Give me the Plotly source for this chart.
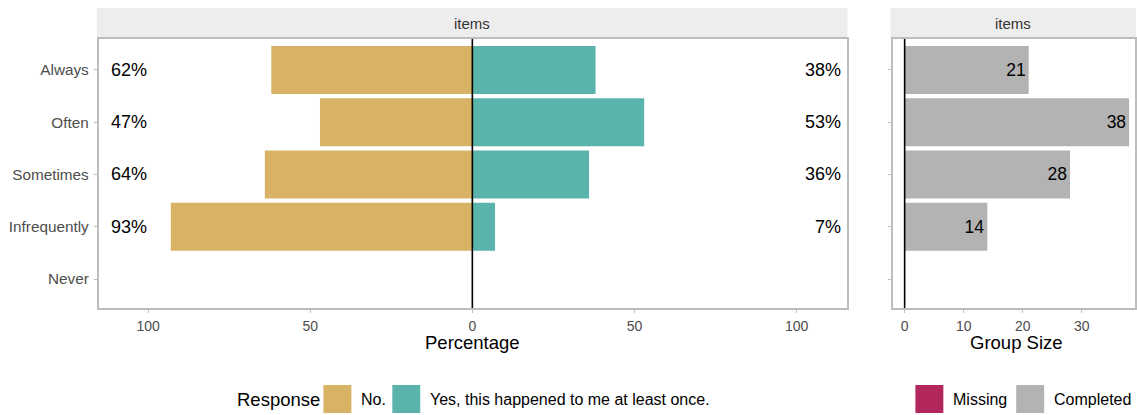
import plotly.graph_objects as go

# ---------------- data ----------------
items = ["Always", "Often", "Sometimes", "Infrequently", "Never"]
pct_no = [62, 47, 64, 93, None]
pct_yes = [38, 53, 36, 7, None]
group_size = [21, 38, 28, 14, None]
response_levels = ["No.", "Yes, this happened to me at least once."]
group_levels = ["Missing", "Completed"]
x_ticks = [-100, -50, 0, 50, 100]
x_tick_text = ["100", "50", "0", "50", "100"]
n_ticks = [0, 10, 20, 30]
strip_label = "items"

# ---------------- style ----------------
W, H = 1137, 415
C_NO = "#D8B365"
C_YES = "#5AB4AC"
C_MISS = "#B2285C"
C_COMP = "#B3B3B3"
BORDER = "#BDBDBD"
FONT = "Liberation Sans"
TICK_COL = "#4D4D4D"

def px(x):
    return x / W

def py(y):
    return (H - y) / H

L0, L1 = 99, 848      # left panel px
R0, R1 = 895, 1137    # right panel px
T0, T1 = 39, 308      # panel top/bottom px
S0 = 8                # strip top px

fig = go.Figure()

neg_no = [-v if v is not None else None for v in pct_no]
fig.add_trace(go.Bar(y=items, x=neg_no, orientation="h", marker=dict(color=C_NO, line_width=0),
                     width=0.92, name=response_levels[0], xaxis="x", yaxis="y", showlegend=False))
fig.add_trace(go.Bar(y=items, x=pct_yes, orientation="h", marker=dict(color=C_YES, line_width=0),
                     width=0.92, name=response_levels[1], xaxis="x", yaxis="y", showlegend=False))
fig.add_trace(go.Bar(y=items, x=group_size, orientation="h", marker=dict(color=C_COMP, line_width=0),
                     width=0.92, name=group_levels[1], xaxis="x2", yaxis="y2", showlegend=False,
                     text=[str(v) if v is not None else "" for v in group_size],
                     textposition="inside", insidetextanchor="end", textangle=0,
                     constraintext="none",
                     textfont=dict(family=FONT, size=17.5, color="black")))

yrange = [4.555, -0.593]
common_y = dict(type="category", categoryorder="array", categoryarray=items, range=yrange,
                showgrid=False, zeroline=False, showline=True, mirror=True,
                linecolor=BORDER, linewidth=2, ticks="outside", ticklen=3, tickcolor=BORDER,
                tickfont=dict(family=FONT, size=15.3, color=TICK_COL))

fig.update_layout(
    width=W, height=H, margin=dict(l=0, r=0, t=0, b=0),
    paper_bgcolor="white", plot_bgcolor="white",
    barmode="relative", bargap=0.08,
    font=dict(family=FONT),
    xaxis=dict(domain=[px(L0), px(L1)], range=[-115.2, 115.4], tickvals=x_ticks, ticktext=x_tick_text,
               showgrid=False, zeroline=False, showline=True, mirror=True, linecolor=BORDER, linewidth=2,
               ticks="outside", ticklen=3, tickcolor=BORDER, anchor="y",
               tickfont=dict(family=FONT, size=14, color=TICK_COL), ticklabelstandoff=1),
    yaxis=dict(domain=[py(T1), py(T0)], anchor="x", ticklabelstandoff=2, **common_y),
    xaxis2=dict(domain=[px(R0), px(R1)], range=[-1.9, 39.0], tickvals=n_ticks,
                showgrid=False, zeroline=False, showline=True, mirror=True, linecolor=BORDER, linewidth=2,
                ticks="outside", ticklen=3, tickcolor=BORDER, anchor="y2",
                tickfont=dict(family=FONT, size=14, color=TICK_COL), ticklabelstandoff=1),
    yaxis2=dict(domain=[py(T1), py(T0)], anchor="x2", showticklabels=False, **common_y),
)

shapes = []
annotations = []
# strips
for a, b in [(L0 - 1, L1), (R0 - 2, R1)]:
    shapes.append(dict(type="rect", xref="paper", yref="paper", x0=px(a - 1), x1=px(b + 1),
                       y0=py(T0 - 1), y1=py(S0), fillcolor="#EDEDED", line_width=0, layer="below"))
    annotations.append(dict(xref="paper", yref="paper", x=px((a + b) / 2), y=py((S0 + T0) / 2),
                            text=strip_label, showarrow=False, xanchor="center", yanchor="middle",
                            font=dict(family=FONT, size=15, color="#333333")))
# zero lines
shapes.append(dict(type="line", xref="x", yref="y domain", x0=0, x1=0, y0=0, y1=1,
                   line=dict(color="black", width=1.6), layer="above"))
shapes.append(dict(type="line", xref="x2", yref="y2 domain", x0=0, x1=0, y0=0, y1=1,
                   line=dict(color="black", width=1.6), layer="above"))

# percentage labels
for it, n, y in zip(items, pct_no, pct_yes):
    if n is None:
        continue
    annotations.append(dict(xref="x domain", yref="y", x=0.013, y=it, text=f"{n}%", showarrow=False,
                            xanchor="left", yanchor="middle", font=dict(family=FONT, size=18, color="black")))
    annotations.append(dict(xref="x domain", yref="y", x=0.995, y=it, text=f"{y}%", showarrow=False,
                            xanchor="right", yanchor="middle", font=dict(family=FONT, size=18, color="black")))

# axis titles
annotations.append(dict(xref="x", yref="paper", x=0, y=py(342), text="Percentage", showarrow=False,
                        xanchor="center", yanchor="middle", font=dict(family=FONT, size=18.5, color="black")))
annotations.append(dict(xref="paper", yref="paper", x=px(1018), y=py(342), text="Group Size", showarrow=False,
                        xanchor="center", yanchor="middle", font=dict(family=FONT, size=18.5, color="black")))

# legends
LY0, LY1 = 385, 413
LYC = (LY0 + LY1) / 2
annotations.append(dict(xref="paper", yref="paper", x=px(235), y=py(LYC), text="Response", showarrow=False,
                        xanchor="left", yanchor="middle", font=dict(family=FONT, size=18.5, color="black")))
legend_items = [(324, C_NO, response_levels[0]), (393, C_YES, response_levels[1]),
                (917, C_MISS, group_levels[0]), (1018, C_COMP, group_levels[1])]
for x0, col, lab in legend_items:
    shapes.append(dict(type="rect", xref="paper", yref="paper", x0=px(x0), x1=px(x0 + 28),
                       y0=py(LY1), y1=py(LY0), fillcolor=col, line_width=0))
    annotations.append(dict(xref="paper", yref="paper", x=px(x0 + 36), y=py(LYC), text=lab, showarrow=False,
                            xanchor="left", yanchor="middle", font=dict(family=FONT, size=16, color="black")))

fig.update_layout(shapes=shapes, annotations=annotations)
fig.write_html("out.html", config={"displayModeBar": False},
               post_script="document.body.style.margin='0';document.body.style.padding='0';")
